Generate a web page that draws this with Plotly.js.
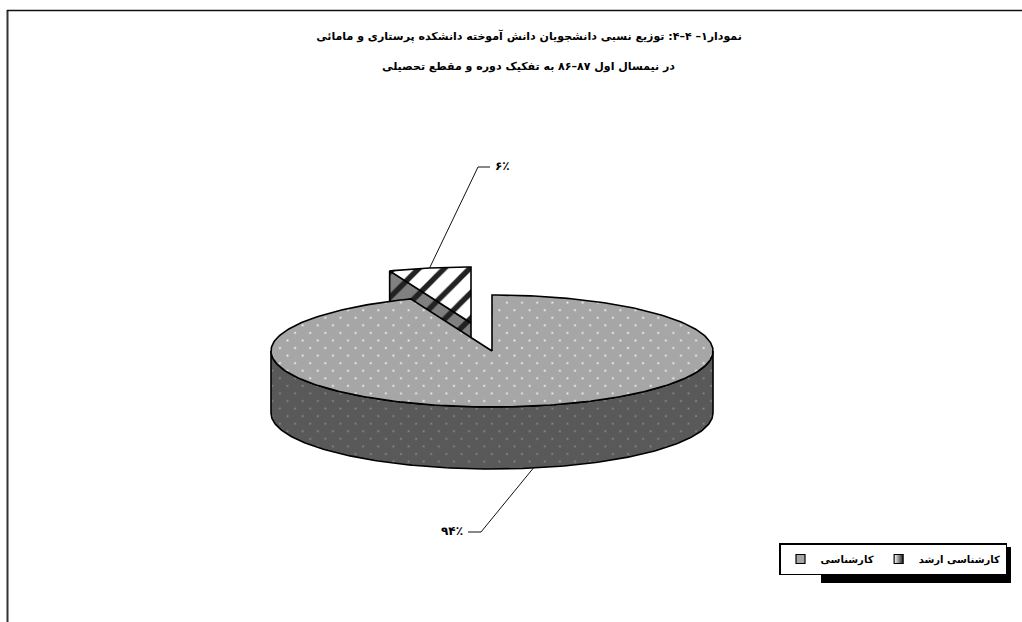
<!DOCTYPE html>
<html><head><meta charset="utf-8">
<script src="https://cdn.plot.ly/plotly-3.0.1.min.js"></script>
<style>html,body{margin:0;padding:0;background:#fff}#chart{width:1022px;height:622px}</style>
</head><body><div id="chart"></div>
<script>
// Data
var categories = ['کارشناسی', 'کارشناسی ارشد'];
var shares = [94, 6];
var valueLabels = ['۹۴٪', '۶٪'];
var titleLines = ['نمودار۱– ۴–۴: توزیع نسبی دانشجویان دانش آموخته دانشکده پرستاری و مامائی',
                  'در نیمسال اول ۸۷–۸۶ به تفکیک دوره و مقطع تحصیلی'];
// Pie projection
var cx = 492, cy = 351, rx = 221, ry = 56, depth = 62, explodeX = -21, explodeY = -28;
var total = shares[0] + shares[1];
var splitDeg = 360 * shares[0] / total;
function pt(deg, ox, oy, dz) {
  var a = deg * Math.PI / 180;
  return [cx + (ox||0) + rx * Math.sin(a), cy + (oy||0) - ry * Math.cos(a) + (dz||0)];
}
function arc(d0, d1, ox, oy, dz) {
  var out = [], n = Math.max(2, Math.ceil(Math.abs(d1 - d0)));
  for (var i = 0; i <= n; i++) out.push(pt(d0 + (d1 - d0) * i / n, ox, oy, dz));
  return out;
}
function xs(p){return p.map(function(q){return q[0];});}
function ys(p){return p.map(function(q){return q[1];});}
function poly(p, bg, fg, shape, size, sol) {
  return {type:'scatter', mode:'lines', x:xs(p), y:ys(p), fill:'toself', showlegend:false, hoverinfo:'skip',
    line:{color:'#000', width:1.6}, fillcolor:bg,
    fillpattern:{shape:shape, bgcolor:bg, fgcolor:fg, size:size, solidity:sol, fgopacity:1}};
}
var eApex = [cx + explodeX, cy + explodeY];
var eEdge = pt(splitDeg, explodeX, explodeY);
var eTop = [eApex].concat(arc(splitDeg, 360, explodeX, explodeY), [eApex]);
var eFace = [eApex, eEdge, [eEdge[0], eEdge[1] + depth], [eApex[0], eApex[1] + depth], eApex];
var mTop = [[cx, cy]].concat(arc(0, splitDeg), [[cx, cy]]);
var mWall = arc(90, 270).concat(arc(270, 90, 0, 0, depth));
mWall.push(mWall[0]);

var mainMid = shares[0] / total * 180;
var smallMid = splitDeg + (360 - splitDeg) / 2;
var a1 = pt(mainMid, 0, 0, depth), a2 = pt(smallMid, explodeX, explodeY);
var lead1 = [a1, [481, 532], [468, 532]];
var lead2 = [a2, [478, 167], [490, 167]];
function leader(p){return {type:'scatter', mode:'lines', x:xs(p), y:ys(p), showlegend:false, hoverinfo:'skip', line:{color:'#111', width:1}};}

var traces = [
  poly(eFace, '#808080', '#222', '/', 18, 0.3),
  poly(eTop, '#ffffff', '#222', '/', 18, 0.3),
  poly(mWall, '#595959', '#8f8f8f', '.', 10.7, 0.025),
  poly(mTop, '#a6a6a6', '#ffffff', '.', 10.7, 0.025),
  leader(lead1), leader(lead2),
  {type:'scatter', mode:'markers', x:[null], y:[null], name:categories[0], hoverinfo:'skip',
   marker:{symbol:'square', size:9, color:'#a6a6a6', line:{color:'#000', width:1.2}}},
  {type:'scatter', mode:'markers', x:[null], y:[null], name:categories[1], hoverinfo:'skip',
   marker:{symbol:'square', size:9, color:'#ffffff', gradient:{type:'horizontal', color:'#222'}, line:{color:'#000', width:1.2}}}
];
var labelFont = {family:'DejaVu Sans', size:12, color:'#000', weight:'bold'};
var layout = {
  width:1022, height:622, margin:{l:0,r:0,t:0,b:0}, paper_bgcolor:'#fff', plot_bgcolor:'#fff', hovermode:false,
  xaxis:{range:[0,1022], visible:false, fixedrange:true},
  yaxis:{range:[622,0], visible:false, fixedrange:true},
  title:{text:titleLines[0], x:529/1022, xanchor:'center', xref:'paper', y:1-36/622, yanchor:'middle', yref:'container',
         font:{family:'DejaVu Sans', size:11, color:'#000', weight:'bold'}},
  annotations:[
    {x:528, y:66, xref:'x', yref:'y', text:titleLines[1], showarrow:false, font:{family:'DejaVu Sans', size:11, color:'#000', weight:'bold'}},
    {x:465, y:531, xref:'x', yref:'y', xanchor:'right', text:valueLabels[0], showarrow:false, font:labelFont},
    {x:493, y:166, xref:'x', yref:'y', xanchor:'left', text:valueLabels[1], showarrow:false, font:labelFont}
  ],
  shapes:[
    {type:'line', xref:'x', yref:'y', x0:7.5, x1:7.5, y0:10, y1:622, line:{color:'#333', width:2}, layer:'below'},
    {type:'line', xref:'x', yref:'y', x0:7, x1:1022, y0:10.5, y1:10.5, line:{color:'#111', width:1.5}, layer:'below'},
    {type:'rect', xref:'x', yref:'y', x0:821, x1:1011, y0:547, y1:583, fillcolor:'#000', line:{width:0}, layer:'below'}
  ],
  showlegend:true,
  legend:{orientation:'h', x:1007/1022, xanchor:'right', y:1-543/622, yanchor:'top', bgcolor:'#fff', bordercolor:'#000', borderwidth:1.5,
          font:{family:'DejaVu Sans', size:10, color:'#000', weight:'bold'}, itemwidth:30, traceorder:'normal'}
};
Plotly.newPlot('chart', traces, layout, {displayModeBar:false, staticPlot:true}).then(function(){
  // stagger the dot grids the way the original texture does
  document.querySelectorAll('#chart pattern').forEach(function(p){
    if (p.querySelector('circle')) p.setAttribute('patternTransform','rotate(45)');
  });
});
</script></body></html>
